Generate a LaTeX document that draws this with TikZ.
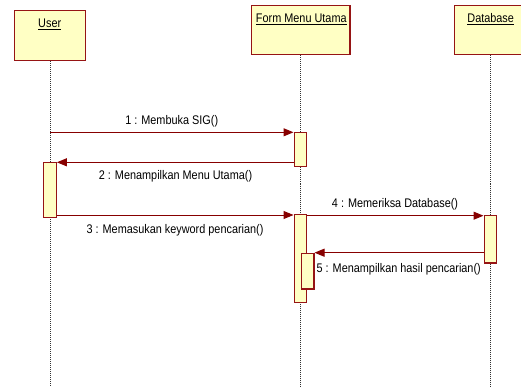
\documentclass[tikz,border=0pt]{standalone}
\usepackage{fontspec}
\setmainfont{Liberation Sans}
\newfontfamily\diagfont[FakeStretch=0.87]{Liberation Sans}
\usetikzlibrary{arrows.meta}
\definecolor{boxfill}{RGB}{255,255,196}
\definecolor{boxline}{RGB}{150,20,20}
\definecolor{msgline}{RGB}{135,0,0}
\tikzset{
  x=1pt, y=-1pt,
  objbox/.style={draw=boxline, line width=1.2pt, fill=boxfill, inner sep=0pt, anchor=north west},
  objname/.style={font=\diagfont\fontsize{12.5}{14}\selectfont, inner sep=0pt},
  lifeline/.style={draw=black!80, line width=0.8pt, dash pattern=on 1pt off 1pt},
  actbox/.style={draw=boxline, line width=1.2pt, fill=boxfill, inner sep=0pt, minimum width=12.5pt, anchor=north west},
  msg/.style={draw=msgline, line width=1pt, -{Triangle[length=10pt,width=8pt]}},
  msglabel/.style={font=\diagfont\fontsize{12.5}{14}\selectfont, inner sep=0pt, text=black}
}
\begin{document}
\begin{tikzpicture}
\useasboundingbox (0,0) rectangle (521,387);

% object heads
\node[objbox, minimum width=71pt, minimum height=50.3pt] (user) at (13.7,9.7) {};
\node[objbox, minimum width=98.6pt, minimum height=49.6pt] (form) at (250.7,4.7) {};
\node[objbox, minimum width=73.4pt, minimum height=49.6pt] (db) at (454,4.7) {};
\node[objname] (userT) at (49.7,24) {\underline{User}};
\node[objname] (formT) at (301.3,19) {\underline{Form Menu Utama}};
\node[objname] (dbT) at (490.7,19.5) {\underline{Database}};

% lifelines
\coordinate (uEnd) at (50.3,387);
\coordinate (fEnd) at (300.3,387);
\coordinate (dEnd) at (490.7,387);
\draw[lifeline] (user.south -| uEnd) -- (uEnd);
\draw[lifeline] (form.south -| fEnd) -- (fEnd);
\draw[lifeline] (db.south -| dEnd) -- (dEnd);

% activations
\node[actbox, minimum height=34.3pt] (a1) at (293.5,131.7) {};
\node[actbox, minimum height=55pt, minimum width=13pt] (ua) at (42.7,161.7) {};
\node[actbox, minimum height=87.7pt] (a2) at (293.5,214) {};
\node[actbox, minimum height=47.3pt] (dba) at (483.5,215) {};
\node[actbox, minimum height=35.6pt] (a3) at (300.8,252.7) {};

% messages
\coordinate (p1) at ([yshift=-0.6pt]a1.north west);
\coordinate (p2) at ([yshift=-0.6pt]ua.north east);
\coordinate (p3) at ([yshift=-1pt]a2.north west);
\coordinate (p4) at ([yshift=-0.7pt]dba.north west);
\draw[msg] (uEnd |- p1) -- (p1);
\draw[msg] (a1.west |- p2) -- (p2);
\draw[msg] (ua.east |- p3) -- (p3);
\draw[msg] (a2.east |- p4) -- (p4);
\draw[msg] (dba.west |- a3.north) -- (a3.north east);

% message labels
\node[msglabel] (m1) at (171.7,121.7) {1 : Membuka SIG()};
\node[msglabel] (m2) at (175.5,176.7) {2 : Menampilkan Menu Utama()};
\node[msglabel] (m3) at (175,230) {3 : Memasukan keyword pencarian()};
\node[msglabel] (m4) at (395,204) {4 : Memeriksa Database()};
\node[msglabel] (m5) at (398.7,269.5) {5 : Menampilkan hasil pencarian()};
\end{tikzpicture}
\end{document}
